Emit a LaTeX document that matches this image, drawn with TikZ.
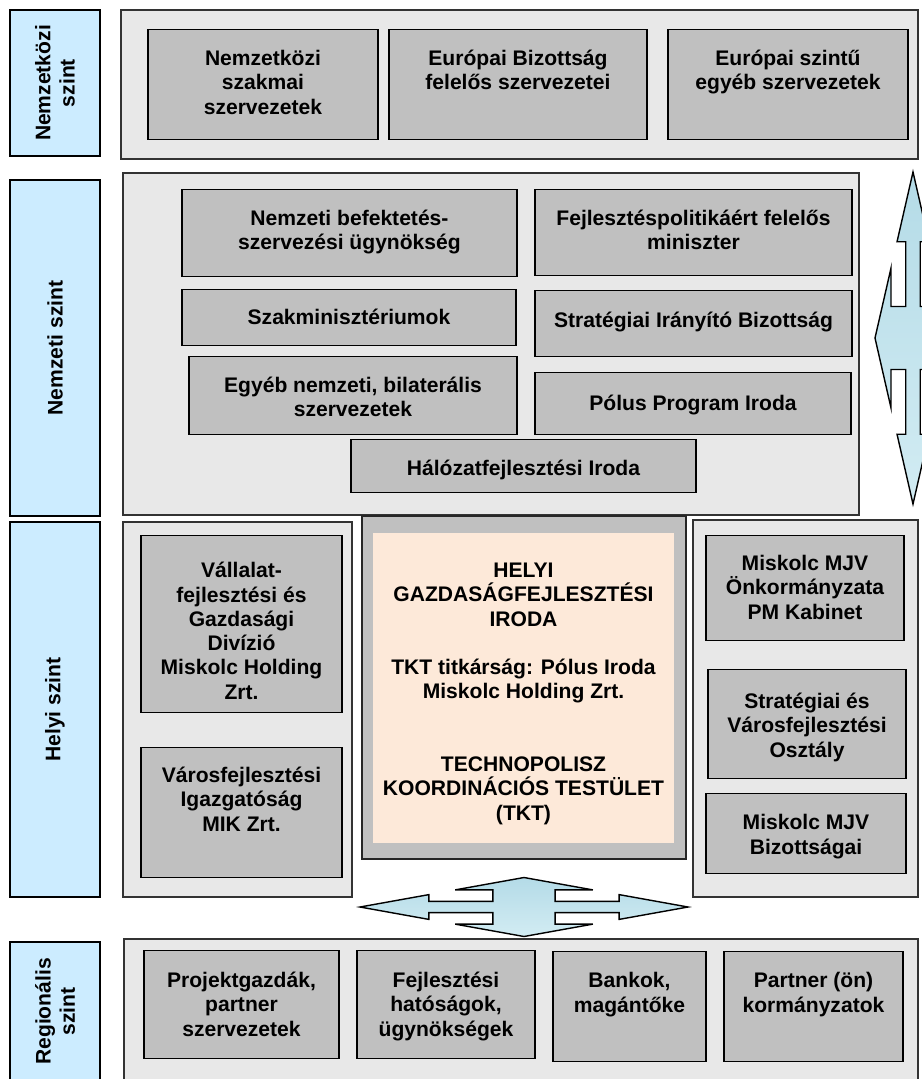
\documentclass[tikz,border=0pt]{standalone}
\usepackage{fontspec}
\setmainfont{Liberation Sans}
\usepackage{tikz}
\definecolor{lvlblue}{RGB}{204,236,255}
\definecolor{panelgrey}{RGB}{232,232,232}
\definecolor{unitgrey}{RGB}{192,192,192}
\definecolor{peach}{RGB}{253,233,217}
\definecolor{flowtop}{RGB}{180,219,231}
\definecolor{flowbot}{RGB}{210,236,243}
\tikzstyle{txt} = [font = \fontsize{12pt}{13.8pt}\selectfont\bfseries, align = center, inner sep = 0]
\tikzstyle{lvl} = [txt, draw = black, line width = 1.1pt, fill = lvlblue, rotate = 90, minimum height = 1.8cm]
\tikzstyle{panel} = [draw = black!80, line width = 0.8pt, fill = panelgrey]
\tikzstyle{unit} = [txt, draw = black, line width = 0.8pt, fill = unitgrey, anchor = north]
\tikzstyle{hub} = [draw = black!85, line width = 1.1pt, fill = unitgrey]
\tikzstyle{core} = [txt, fill = peach, anchor = north]
\tikzstyle{flow} = [draw = black, line width = 0.8pt, line join = miter, top color = flowtop, bottom color = flowbot]
\newcommand{\quadarrow}[3]{%
  \draw [flow, shift = {(#1)}, xscale = #2, yscale = #3]
    (-1, 0) -- (-.58, -.42) -- (-.58, -.19) -- (-.19, -.19) -- (-.19, -.58) -- (-.42, -.58)
    -- (0, -1) -- (.42, -.58) -- (.19, -.58) -- (.19, -.19) -- (.58, -.19) -- (.58, -.42)
    -- (1, 0) -- (.58, .42) -- (.58, .19) -- (.19, .19) -- (.19, .58) -- (.42, .58)
    -- (0, 1) -- (-.42, .58) -- (-.19, .58) -- (-.19, .19) -- (-.58, .19) -- (-.58, .42) -- cycle;}

\begin{document}
\begin{tikzpicture}[x = 0.02cm, y = -0.02cm]
\useasboundingbox (0, 0) rectangle (922, 1079);

\node [lvl, minimum width = 2.92cm] (nkLbl) at (55, 83) {Nemzetközi\\szint};
\draw [panel] (121, 10) rectangle (918, 159);
\node [unit, minimum width = 4.6cm, text height = 1.69cm, text depth = 0.51cm] (nkSzakmai) at (263, 29) {Nemzetközi\\szakmai\\szervezetek};
\node [unit, minimum width = 5.16cm, text height = 1.206cm, text depth = 0.994cm] (nkBizottsag) at (518, 29) {Európai Bizottság\\felelős szervezetei};
\node [unit, minimum width = 4.8cm, text height = 1.206cm, text depth = 0.994cm] (nkEgyeb) at (788, 29) {Európai szintű\\egyéb szervezetek};

\node [lvl, minimum width = 6.72cm] (nzLbl) at (55, 348) {Nemzeti szint};
\draw [panel] (123, 173) rectangle (859, 515);
\node [unit, minimum width = 6.7cm, text height = 1.206cm, text depth = 0.534cm] (nzBefektetes) at (349.5, 189) {Nemzeti befektetés-\\szervezési ügynökség};
\node [unit, minimum width = 6.34cm, text height = 1.206cm, text depth = 0.514cm] (nzMiniszter) at (693.5, 189) {Fejlesztéspolitikáért felelős\\miniszter};
\node [unit, minimum width = 6.68cm, text height = 0.7cm, text depth = 0.42cm] (nzSzakmin) at (349, 289) {Szakminisztériumok};
\node [unit, minimum width = 6.34cm, text height = 0.74cm, text depth = 0.58cm] (nzIranyito) at (693.5, 290) {Stratégiai Irányító Bizottság};
\node [unit, minimum width = 6.56cm, text height = 1.206cm, text depth = 0.354cm] (nzBilateral) at (353, 356) {Egyéb nemzeti, bilaterális\\szervezetek};
\node [unit, minimum width = 6.32cm, text height = 0.76cm, text depth = 0.48cm] (nzPolus) at (693, 372) {Pólus Program Iroda};
\node [unit, minimum width = 6.9cm, text height = 0.72cm, text depth = 0.34cm] (nzHalozat) at (523.5, 439) {Hálózatfejlesztési Iroda};
\quadarrow{913, 338}{38}{166}

\node [lvl, minimum width = 7.5cm] (hlLbl) at (55, 709.5) {Helyi szint};
\draw [panel] (123, 522) rectangle (352, 897);
\node [unit, minimum width = 4.02cm, text height = 3.267cm, text depth = 0.273cm] (hlDivizio) at (241.5, 535) {Vállalat-\\fejlesztési és\\Gazdasági\\Divízió\\Miskolc Holding\\Zrt.};
\node [unit, minimum width = 4.02cm, text height = 1.67cm, text depth = 0.93cm] (hlMik) at (241.5, 747) {Városfejlesztési\\Igazgatóság\\MIK Zrt.};
\draw [hub] (362, 516) rectangle (686, 859);
\node [core, minimum width = 6.02cm, text height = 5.734cm, text depth = 0.466cm] (hlIroda) at (523.5, 533) {HELYI\\GAZDASÁGFEJLESZTÉSI\\IRODA\\[13.8pt]TKT titkárság: Pólus Iroda\\Miskolc Holding Zrt.\\[27.6pt]TECHNOPOLISZ\\KOORDINÁCIÓS TESTÜLET\\(TKT)};
\draw [panel] (693, 520) rectangle (918, 897);
\node [unit, minimum width = 3.96cm, text height = 1.67cm, text depth = 0.43cm] (hrKabinet) at (805, 535) {Miskolc MJV\\Önkormányzata\\PM Kabinet};
\node [unit, minimum width = 3.96cm, text height = 1.75cm, text depth = 0.43cm] (hrOsztaly) at (807, 669) {Stratégiai és\\Városfejlesztési\\Osztály};
\node [unit, minimum width = 4.0cm, text height = 1.206cm, text depth = 0.394cm] (hrBizottsag) at (806, 793) {Miskolc MJV\\Bizottságai};
\quadarrow{524, 907}{164}{29.5}

\node [lvl, minimum width = 2.78cm] (rgLbl) at (55, 1011.5) {Regionális\\szint};
\draw [panel] (124, 939) rectangle (918, 1085);
\node [unit, minimum width = 3.9cm, text height = 1.71cm, text depth = 0.45cm] (rgProjekt) at (241.5, 950) {Projektgazdák,\\partner\\szervezetek};
\node [unit, minimum width = 3.56cm, text height = 1.71cm, text depth = 0.45cm] (rgHatosag) at (446, 950) {Fejlesztési\\hatóságok,\\ügynökségek};
\node [unit, minimum width = 3.06cm, text height = 1.206cm, text depth = 0.994cm] (rgBankok) at (629.5, 951) {Bankok,\\magántőke};
\node [unit, minimum width = 3.58cm, text height = 1.206cm, text depth = 0.994cm] (rgKormany) at (813.5, 951) {Partner (ön)\\kormányzatok};
\end{tikzpicture}
\end{document}
